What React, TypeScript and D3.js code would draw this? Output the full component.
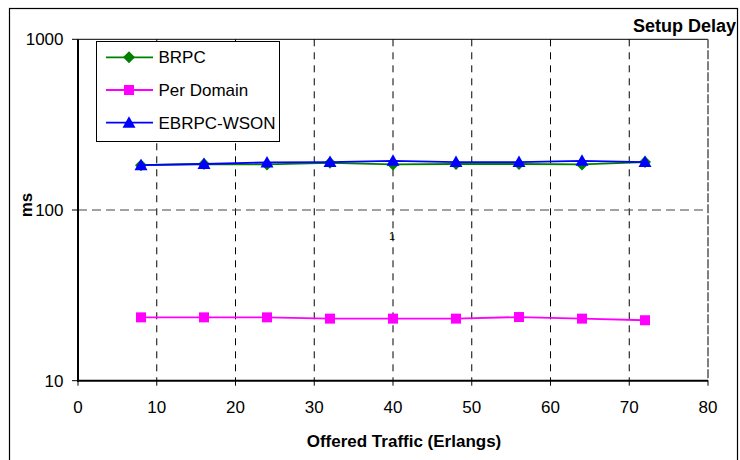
import React from "react";
import * as d3 from "d3";

// Offered traffic (Erlangs) at each measurement point
const traffic = [8, 16, 24, 32, 40, 48, 56, 64, 72];
// Setup delay (ms) per scheme
const brpc = [183, 186, 185, 189, 185, 186, 186, 185, 191];
const perDomain = [23.5, 23.5, 23.5, 23.1, 23.1, 23.1, 23.6, 23.1, 22.6];
const ebrpcWson = [183, 186, 190, 191, 194, 191, 191, 194, 191];

const xTicks = [0, 10, 20, 30, 40, 50, 60, 70, 80];
const yTicks = [10, 100, 1000];
const seriesNames = ["BRPC", "Per Domain", "EBRPC-WSON"];

const W = 740;
const H = 460;
const plot = { left: 78, right: 708, top: 39.3, bottom: 380.7 };
const FONT = "'Liberation Sans', Arial, sans-serif";

type Shape = "diamond" | "square" | "triangle";

function Marker({ x, y, shape, color }: { x: number; y: number; shape: Shape; color: string }) {
  if (shape === "square") {
    return <rect x={x - 5} y={y - 5} width={10} height={10} fill={color} />;
  }
  if (shape === "diamond") {
    return <path d={`M${x},${y - 6}L${x + 6},${y}L${x},${y + 6}L${x - 6},${y}Z`} fill={color} />;
  }
  return <path d={`M${x},${y - 6.5}L${x + 6.5},${y + 5}L${x - 6.5},${y + 5}Z`} fill={color} />;
}

export default function App() {
  const x = d3.scaleLinear().domain([0, 80]).range([plot.left, plot.right]);
  const y = d3.scaleLog().domain([10, 1000]).range([plot.bottom, plot.top]);

  const series = [
    { name: seriesNames[0], values: brpc, color: "#008000", shape: "diamond" as Shape },
    { name: seriesNames[1], values: perDomain, color: "#FF00FF", shape: "square" as Shape },
    { name: seriesNames[2], values: ebrpcWson, color: "#0000FF", shape: "triangle" as Shape },
  ];

  const line = d3
    .line<[number, number]>()
    .x((d) => x(d[0]))
    .y((d) => y(d[1]));

  const legend = { x: 96.5, y: 41.5, w: 183, h: 100 };
  const legendRows = [57.3, 90, 122.7];

  return (
    <svg
      width={W}
      height={H}
      style={{ position: "absolute", left: 0, top: 0, background: "#fff" }}
      fontFamily={FONT}
    >
      {/* chart frame */}
      <rect x={9.5} y={8.5} width={728} height={460} fill="#fff" stroke="#000" strokeWidth={1.2} />

      <text x={736} y={32} textAnchor="end" fontSize={18} fontWeight="bold" fill="#000">
        Setup Delay
      </text>

      {/* grid */}
      {xTicks
        .filter((t) => t > 0 && t < 80)
        .map((t) => (
          <line
            key={`gx${t}`}
            x1={x(t)}
            x2={x(t)}
            y1={plot.top}
            y2={plot.bottom}
            stroke="#000"
            strokeWidth={1}
            strokeDasharray="7,6"
          />
        ))}
      <line
        x1={plot.left}
        x2={plot.right}
        y1={y(100)}
        y2={y(100)}
        stroke="#444"
        strokeWidth={1}
        strokeDasharray="9,5"
      />

      {/* plot border */}
      <line x1={plot.left} x2={plot.right} y1={plot.top} y2={plot.top} stroke="#000" strokeWidth={1} />
      <line
        x1={plot.right}
        x2={plot.right}
        y1={plot.top}
        y2={plot.bottom}
        stroke="#555"
        strokeWidth={1.5}
        strokeDasharray="9,2"
      />

      {/* axes */}
      <line x1={plot.left} x2={plot.left} y1={plot.top} y2={plot.bottom + 1} stroke="#000" strokeWidth={2} />
      <line x1={plot.left - 1} x2={plot.right} y1={plot.bottom} y2={plot.bottom} stroke="#000" strokeWidth={2} />

      {yTicks.map((t) => (
        <g key={`yt${t}`}>
          <line x1={plot.left - 6} x2={plot.left} y1={y(t)} y2={y(t)} stroke="#000" strokeWidth={1} />
          <text x={63.5} y={y(t) + 6} textAnchor="end" fontSize={17} fill="#000">
            {t}
          </text>
        </g>
      ))}
      {xTicks.map((t) => (
        <g key={`xt${t}`}>
          <line x1={x(t)} x2={x(t)} y1={plot.bottom} y2={plot.bottom + 5} stroke="#000" strokeWidth={1} />
          <text x={x(t)} y={412.5} textAnchor="middle" fontSize={17} fill="#000">
            {t}
          </text>
        </g>
      ))}

      <text x={404} y={447} textAnchor="middle" fontSize={17} fontWeight="bold" fill="#000">
        Offered Traffic (Erlangs)
      </text>
      <text
        transform="translate(32,205) rotate(-90)"
        textAnchor="middle"
        fontSize={17}
        fontWeight="bold"
        fill="#000"
      >
        ms
      </text>

      <text x={392} y={240} textAnchor="middle" fontSize={11} fill="#000">
        1
      </text>

      {/* series */}
      {series.map((s) => {
        const pts = traffic.map((t, i) => [t, s.values[i]] as [number, number]);
        return (
          <g key={s.name}>
            <path d={line(pts) || ""} fill="none" stroke={s.color} strokeWidth={1.8} />
            {pts.map((p, i) => (
              <Marker key={i} x={x(p[0])} y={y(p[1])} shape={s.shape} color={s.color} />
            ))}
          </g>
        );
      })}

      {/* legend */}
      <rect x={legend.x} y={legend.y} width={legend.w} height={legend.h} fill="#fff" stroke="#000" strokeWidth={1} />
      {series.map((s, i) => (
        <g key={`lg${s.name}`}>
          <line x1={106} x2={153} y1={legendRows[i]} y2={legendRows[i]} stroke={s.color} strokeWidth={1.8} />
          <Marker x={129} y={legendRows[i]} shape={s.shape} color={s.color} />
          <text x={158.5} y={legendRows[i] + 6} fontSize={17} fill="#000">
            {s.name}
          </text>
        </g>
      ))}
    </svg>
  );
}
